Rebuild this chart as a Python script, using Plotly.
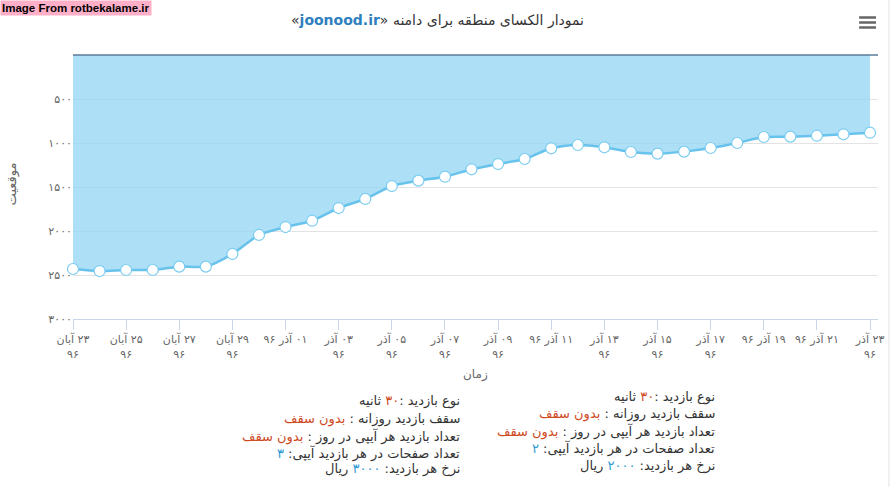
import plotly.graph_objects as go

# ---------------- data ----------------
days = list(range(31))  # 23 Aban 96 .. 23 Azar 96
rank = [2432, 2455, 2443, 2443, 2405, 2405, 2261, 2045, 1955, 1883,
        1739, 1636, 1489, 1428, 1383, 1299, 1239, 1182, 1060, 1023,
        1049, 1102, 1121, 1098, 1057, 1000, 932, 928, 917, 901, 883]

RLM = "\u200f"
x_tick_vals = [0, 2, 4, 6, 8, 10, 12, 14, 16, 18, 20, 22, 24, 26, 28, 30]
x_tick_text = [
    "۲۳ آبان<br>۹۶", "۲۵ آبان<br>۹۶", "۲۷ آبان<br>۹۶", "۲۹ آبان<br>۹۶",
    "۰۱ آذر ۹۶", "۰۳ آذر<br>۹۶", "۰۵ آذر<br>۹۶", "۰۷ آذر<br>۹۶",
    "۰۹ آذر<br>۹۶", "۱۱ آذر ۹۶", "۱۳ آذر<br>۹۶", "۱۵ آذر<br>۹۶",
    "۱۷ آذر<br>۹۶", "۱۹ آذر ۹۶", "۲۱ آذر ۹۶", "۲۳ آذر<br>۹۶",
]
y_tick_vals = [500, 1000, 1500, 2000, 2500, 3000]
y_tick_text = ["۵۰۰", "۱۰۰۰", "۱۵۰۰", "۲۰۰۰", "۲۵۰۰", "۳۰۰۰"]

RED = "#cf4a1f"
BLUE = "#2e9bd6"
left_block = [
    "نوع بازدید :" + f"<span style='color:{RED}'>۳۰</span>" + " ثانیه",
    "سقف بازدید روزانه : " + f"<span style='color:{RED}'>بدون سقف</span>",
    "تعداد بازدید هر آیپی در روز : " + f"<span style='color:{RED}'>بدون سقف</span>",
    "تعداد صفحات در هر بازدید آیپی: " + f"<span style='color:{BLUE}'>۳</span>",
    "نرخ هر بازدید: " + f"<span style='color:{BLUE}'>۳۰۰۰</span>" + " ریال",
]
right_block = [
    "نوع بازدید :" + f"<span style='color:{RED}'>۳۰</span>" + " ثانیه",
    "سقف بازدید روزانه : " + f"<span style='color:{RED}'>بدون سقف</span>",
    "تعداد بازدید هر آیپی در روز : " + f"<span style='color:{RED}'>بدون سقف</span>",
    "تعداد صفحات در هر بازدید آیپی: " + f"<span style='color:{BLUE}'>۲</span>",
    "نرخ هر بازدید: " + f"<span style='color:{BLUE}'>۲۰۰۰</span>" + " ریال",
]

# ---------------- layout helpers ----------------
W, H = 896, 487
L, R, T, B = 73, 883, 55, 319


def px_x(px):
    return (px - L) / (R - L)


def px_y(py):
    return (B - py) / (B - T)


FONT = "DejaVu Sans"

fig = go.Figure()
fig.add_trace(go.Scatter(
    x=days, y=rank, mode="lines+markers",
    line=dict(color="#67c2ec", width=2.5, shape="spline", smoothing=0.7),
    marker=dict(size=11, color="white", line=dict(color="#7ccdf1", width=1.2)),
    fill="tozeroy", fillcolor="rgba(146,214,244,0.75)",
    cliponaxis=False, hoverinfo="skip", showlegend=False,
))

annotations = []
# title
annotations.append(dict(
    text="«<b><span style='color:#2f7fbf'>joonood.ir</span></b>» نمودار الکسای منطقه برای دامنه",
    x=px_x(440), y=px_y(20), xref="paper", yref="paper",
    xanchor="center", yanchor="middle", showarrow=False,
    font=dict(family=FONT, size=14, color="#333333")))
# watermark
annotations.append(dict(
    text="<b>Image From rotbekalame.ir</b>",
    x=px_x(0), y=px_y(0), xref="paper", yref="paper",
    xanchor="left", yanchor="top", showarrow=False,
    bgcolor="#ffb0c8", borderpad=1,
    font=dict(family="Liberation Sans", size=11.5, color="#000000")))
# axis titles
annotations.append(dict(
    text=RLM + "موقعیت", x=px_x(12), y=px_y(184), xref="paper", yref="paper",
    textangle=-90, showarrow=False, xanchor="center", yanchor="middle",
    font=dict(family=FONT, size=13, color="#666666")))
annotations.append(dict(
    text=RLM + "زمان", x=px_x(478), y=px_y(374), xref="paper", yref="paper",
    showarrow=False, xanchor="center", yanchor="middle",
    font=dict(family=FONT, size=12, color="#666666")))

left_ys = [401, 419, 436, 453, 469]
right_ys = [397, 414, 431, 448, 466]
for txt, yy in zip(left_block, left_ys):
    annotations.append(dict(
        text=RLM + txt, x=px_x(464), y=px_y(yy), xref="paper", yref="paper",
        xanchor="right", yanchor="middle", align="right", showarrow=False,
        font=dict(family=FONT, size=13, color="#333333")))
for txt, yy in zip(right_block, right_ys):
    annotations.append(dict(
        text=RLM + txt, x=px_x(721), y=px_y(yy), xref="paper", yref="paper",
        xanchor="right", yanchor="middle", align="right", showarrow=False,
        font=dict(family=FONT, size=13, color="#333333")))

shapes = []
# top border line of plot
shapes.append(dict(type="line", xref="paper", yref="paper",
                   x0=0, x1=1, y0=1, y1=1,
                   line=dict(color="#5c7a98", width=1.5)))
# right page border
shapes.append(dict(type="line", xref="paper", yref="paper",
                   x0=px_x(894), x1=px_x(894), y0=px_y(0), y1=px_y(487),
                   line=dict(color="#e3e3e3", width=1)))
# hamburger menu icon
for yy in [17.5, 22.5, 27.5]:
    shapes.append(dict(type="line", xref="paper", yref="paper",
                       x0=px_x(864), x1=px_x(881), y0=px_y(yy), y1=px_y(yy),
                       line=dict(color="#666666", width=2.5)))

fig.update_layout(
    width=W, height=H,
    margin=dict(l=L, r=W - R, t=T, b=H - B, pad=0),
    paper_bgcolor="white", plot_bgcolor="white",
    font=dict(family=FONT, color="#666666"),
    xaxis=dict(
        range=[0, 30.3], tickmode="array", tickvals=x_tick_vals,
        ticktext=[RLM + t.replace("<br>", "<br>" + RLM) for t in x_tick_text],
        tickangle=0,
        showgrid=False, zeroline=False, showline=True, linecolor="#ccd6eb",
        linewidth=1, ticks="outside", ticklen=10, tickcolor="#ccd6eb",
        tickfont=dict(family=FONT, size=11, color="#666666"),
    ),
    yaxis=dict(
        range=[3000, 0], tickmode="array", tickvals=y_tick_vals,
        ticktext=y_tick_text, showgrid=True, gridcolor="#e3e3e3",
        zeroline=False, showline=False, ticks="",
        tickfont=dict(family=FONT, size=11, color="#666666"),
    ),
    annotations=annotations, shapes=shapes,
)

fig.write_html("out.html")
